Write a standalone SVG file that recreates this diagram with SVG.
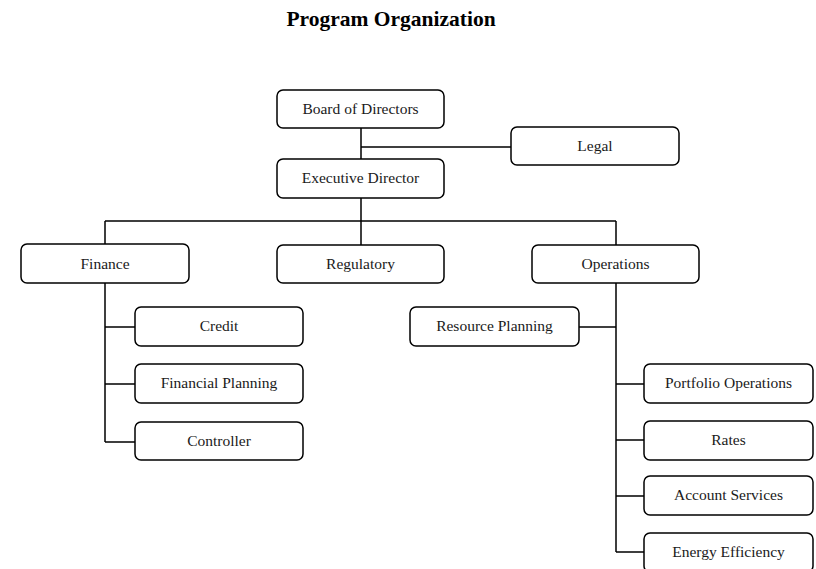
<svg xmlns="http://www.w3.org/2000/svg" width="816" height="569" viewBox="0 0 816 569">
<style>
.box{fill:#fff;stroke:#000;stroke-width:1.5}
.lbl{font-family:"Liberation Serif","Times New Roman",serif;font-size:15.5px;fill:#1a1a1a;text-anchor:middle}
.ttl{font-family:"Liberation Serif","Times New Roman",serif;font-size:21.5px;font-weight:bold;fill:#000;text-anchor:middle}
.con{fill:none;stroke:#000;stroke-width:1.5}
</style>
<rect width="816" height="569" fill="#fff"/>
<text class="ttl" x="391" y="26">Program Organization</text>
<g id="connectors">
<path class="con" d="M361 128V159M361 147H511M361 198V221M105 221H616M105 221V244M361 221V245M616 221V245"/>
<path class="con" d="M105 283V442M105 327H135M105 384H135M105 442H135"/>
<path class="con" d="M616 283V552M579 327H616M616 384H644M616 440H644M616 496H644M616 552H644"/>
</g>
<g id="board"><rect class="box" x="277" y="90" width="167" height="38" rx="6"/><text class="lbl" x="360.5" y="114">Board of Directors</text></g>
<g id="legal"><rect class="box" x="511" y="127" width="168" height="38" rx="6"/><text class="lbl" x="595" y="151">Legal</text></g>
<g id="exec"><rect class="box" x="277" y="159" width="167" height="39" rx="6"/><text class="lbl" x="360.5" y="183">Executive Director</text></g>
<g id="finance"><rect class="box" x="21" y="244" width="168" height="39" rx="6"/><text class="lbl" x="105" y="269">Finance</text></g>
<g id="regulatory"><rect class="box" x="277" y="245" width="167" height="38" rx="6"/><text class="lbl" x="360.5" y="269">Regulatory</text></g>
<g id="operations"><rect class="box" x="532" y="245" width="167" height="38" rx="6"/><text class="lbl" x="615.5" y="269">Operations</text></g>
<g id="resource"><rect class="box" x="410" y="307" width="169" height="39" rx="6"/><text class="lbl" x="494.5" y="331">Resource Planning</text></g>
<g id="credit"><rect class="box" x="135" y="307" width="168" height="39" rx="6"/><text class="lbl" x="219" y="331">Credit</text></g>
<g id="finplan"><rect class="box" x="135" y="364" width="168" height="39" rx="6"/><text class="lbl" x="219" y="388">Financial Planning</text></g>
<g id="controller"><rect class="box" x="135" y="422" width="168" height="38" rx="6"/><text class="lbl" x="219" y="446">Controller</text></g>
<g id="portfolio"><rect class="box" x="644" y="364" width="169" height="39" rx="6"/><text class="lbl" x="728.5" y="388">Portfolio Operations</text></g>
<g id="rates"><rect class="box" x="644" y="421" width="169" height="39" rx="6"/><text class="lbl" x="728.5" y="445">Rates</text></g>
<g id="account"><rect class="box" x="644" y="476" width="169" height="39" rx="6"/><text class="lbl" x="728.5" y="500">Account Services</text></g>
<g id="energy"><rect class="box" x="644" y="533" width="169" height="39" rx="6"/><text class="lbl" x="728.5" y="557">Energy Efficiency</text></g>
</svg>
